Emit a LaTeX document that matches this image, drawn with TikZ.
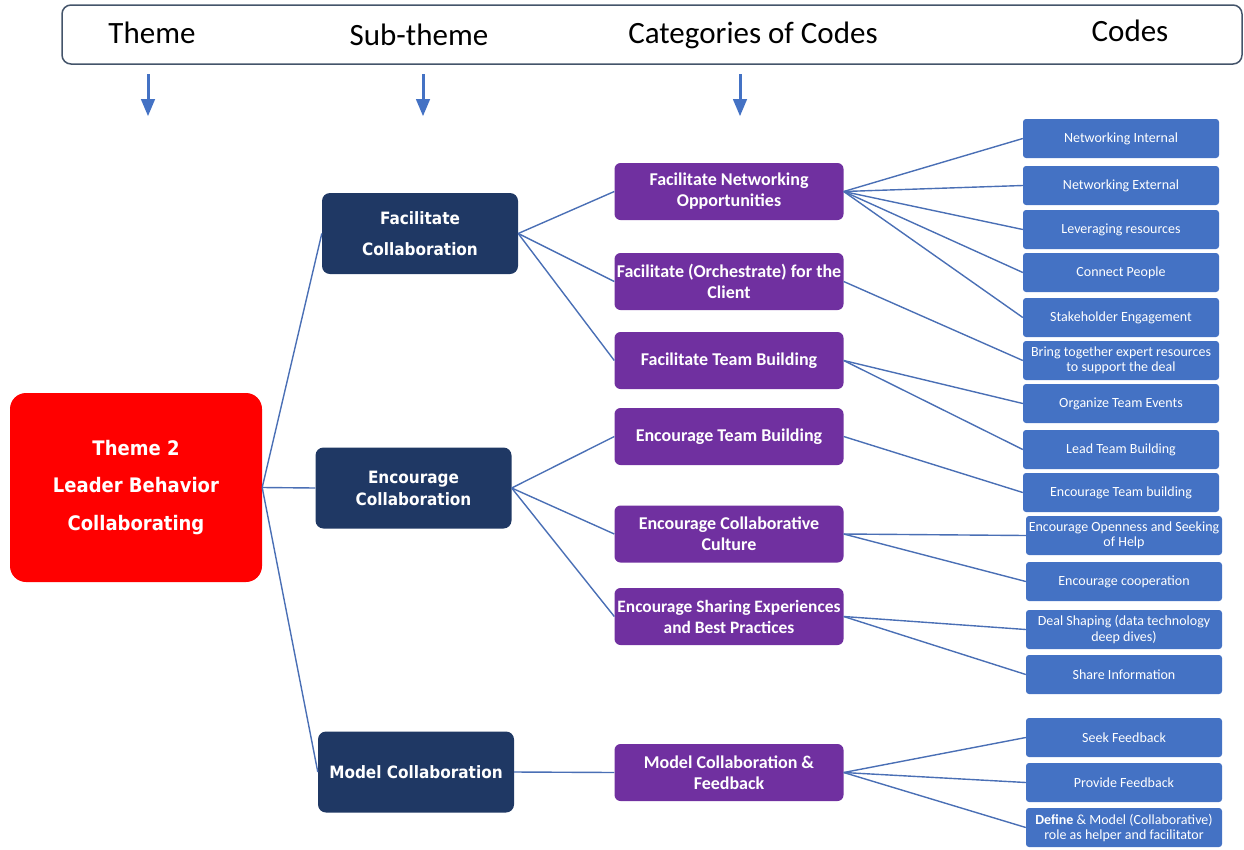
\documentclass[tikz,border=0pt]{standalone}
\usepackage{fontspec}
\setmainfont{Carlito}
\newfontfamily\boxfont{DejaVu Sans Condensed}
\usetikzlibrary{arrows}
\definecolor{themered}{HTML}{FF0000}
\definecolor{subnavy}{HTML}{1F3864}
\definecolor{catpurple}{HTML}{7030A0}
\definecolor{codeblue}{HTML}{4472C4}
\definecolor{linkblue}{HTML}{4A6FB5}
\definecolor{framegray}{HTML}{44546A}

\begin{document}
\begin{tikzpicture}[x=1pt, y=-1pt,
	every node/.style={rectangle, align=center, inner sep=0pt, text=white},
	theme/.style={fill=themered, rounded corners=16pt, minimum width=252pt, minimum height=189pt, font=\boxfont\bfseries\fontsize{20}{37.5}\selectfont},
	subtheme/.style={fill=subnavy, rounded corners=8pt, minimum width=196pt, minimum height=81pt, font=\boxfont\bfseries\fontsize{17}{22}\selectfont},
	category/.style={fill=catpurple, rounded corners=6pt, minimum width=229pt, minimum height=57pt, font=\bfseries\fontsize{18}{21}\selectfont},
	code/.style={fill=codeblue, rounded corners=3pt, minimum width=196pt, minimum height=39pt, font=\fontsize{14}{15}\selectfont},
	heading/.style={text=black, font=\fontsize{31}{31}\selectfont},
	link/.style={draw=linkblue, line width=1.4pt},
	downarrow/.style={draw=codeblue, line width=3pt, -triangle 45}]
\useasboundingbox (0,0) rectangle (1244,849);

\draw[framegray, line width=1.5pt, rounded corners=9pt] (62,5) rectangle (1242,64);
\node[heading] (hTheme) at (152,33) {Theme};
\node[heading] (hSub) at (419,35) {Sub-theme};
\node[heading] (hCat) at (753,35) {Categories of Codes};
\node[heading] (hCode) at (1130,31) {Codes};

\coordinate (a1) at (148,74);  \coordinate (b1) at (148,116);
\coordinate (a2) at (423,74);  \coordinate (b2) at (423,116);
\coordinate (a3) at (740,74);  \coordinate (b3) at (740,116);
\draw[downarrow] (a1) -- (b1);
\draw[downarrow] (a2) -- (b2);
\draw[downarrow] (a3) -- (b3);

\node[theme] (collab) at (136,487.5) {Theme 2\\Leader Behavior\\Collaborating};

\node[subtheme] (facil) at (420,233.5) {Facilitate\\[9pt]Collaboration};
\node[subtheme] (encour) at (413.5,488) {Encourage\\Collaboration};
\node[subtheme] (model) at (416,772) {Model Collaboration};

\node[category] (fno) at (729,191.5) {Facilitate Networking\\Opportunities};
\node[category] (forch) at (729,281.5) {Facilitate (Orchestrate) for the\\Client};
\node[category] (ftb) at (729,360.5) {Facilitate Team Building};
\node[category] (etb) at (729,436.5) {Encourage Team Building};
\node[category] (ecc) at (729,534) {Encourage Collaborative\\Culture};
\node[category, font=\bfseries\fontsize{17.4}{21}\selectfont] (ese) at (729,616.5) {Encourage Sharing Experiences\\and Best Practices};
\node[category] (mcf) at (729,772.5) {Model Collaboration \&\\Feedback};

\node[code] (netint) at (1121,138.5) {Networking Internal};
\node[code] (netext) at (1121,185.5) {Networking External};
\node[code] (levres) at (1121,229.5) {Leveraging resources};
\node[code] (conpeo) at (1121,272.5) {Connect People};
\node[code] (stake) at (1121,317.5) {Stakeholder Engagement};
\node[code] (bring) at (1121,360.5) {Bring together expert resources\\to support the deal};
\node[code] (orgte) at (1121,403.5) {Organize Team Events};
\node[code] (leadtb) at (1121,449.5) {Lead Team Building};
\node[code] (enctb) at (1121,492.5) {Encourage Team building};
\node[code] (encopen) at (1124,535.5) {Encourage Openness and Seeking\\of Help};
\node[code] (enccoop) at (1124,581.5) {Encourage cooperation};
\node[code] (deal) at (1124,629.5) {Deal Shaping (data technology\\deep dives)};
\node[code] (share) at (1124,674.5) {Share Information};
\node[code] (seekfb) at (1124,737.5) {Seek Feedback};
\node[code] (provfb) at (1124,782.5) {Provide Feedback};
\node[code] (define) at (1124,827.5) {\textbf{Define} \& Model (Collaborative)\\role as helper and facilitator};

\draw[link] (collab.east) -- (facil.west);
\draw[link] (collab.east) -- (encour.west);
\draw[link] (collab.east) -- (model.west);

\draw[link] (facil.east) -- (fno.west);
\draw[link] (facil.east) -- (forch.west);
\draw[link] (facil.east) -- (ftb.west);
\draw[link] (encour.east) -- (etb.west);
\draw[link] (encour.east) -- (ecc.west);
\draw[link] (encour.east) -- (ese.west);
\draw[link] (model.east) -- (mcf.west);

\draw[link] (fno.east) -- (netint.west);
\draw[link] (fno.east) -- (netext.west);
\draw[link] (fno.east) -- (levres.west);
\draw[link] (fno.east) -- (conpeo.west);
\draw[link] (fno.east) -- (stake.west);
\draw[link] (forch.east) -- (bring.west);
\draw[link] (ftb.east) -- (orgte.west);
\draw[link] (ftb.east) -- (leadtb.west);
\draw[link] (etb.east) -- (enctb.west);
\draw[link] (ecc.east) -- (encopen.west);
\draw[link] (ecc.east) -- (enccoop.west);
\draw[link] (ese.east) -- (deal.west);
\draw[link] (ese.east) -- (share.west);
\draw[link] (mcf.east) -- (seekfb.west);
\draw[link] (mcf.east) -- (provfb.west);
\draw[link] (mcf.east) -- (define.west);
\end{tikzpicture}
\end{document}
